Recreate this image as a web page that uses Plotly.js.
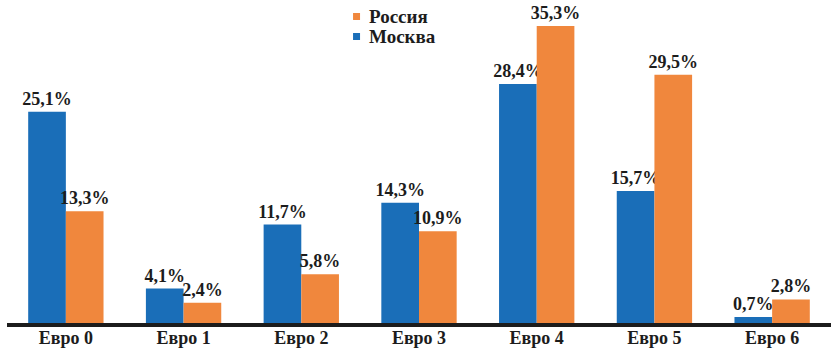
<!DOCTYPE html>
<html>
<head>
<meta charset="utf-8">
<script src="https://cdn.plot.ly/plotly-3.0.1.min.js"></script>
<style>
  html, body { margin: 0; padding: 0; background: #ffffff; }
  #chart { width: 831px; height: 348px; }
</style>
</head>
<body>
<div id="chart"></div>
<script>
// Доля автомобилей по экологическим классам, %
const categories = ['Евро 0', 'Евро 1', 'Евро 2', 'Евро 3', 'Евро 4', 'Евро 5', 'Евро 6'];
const moscow = [25.1, 4.1, 11.7, 14.3, 28.4, 15.7, 0.7];
const russia = [13.3, 2.4, 5.8, 10.9, 35.3, 29.5, 2.8];
const seriesNames = ['Москва', 'Россия'];

const BLUE = '#1a6eb8';
const ORANGE = '#f0873d';
const INK = '#1c1c1c';
const SERIF = 'Liberation Serif, Times New Roman, serif';

const fmt = v => v.toFixed(1).replace('.', ',') + '%';

function barTrace(name, values, color) {
  return {
    type: 'bar',
    name: name,
    x: categories,
    y: values,
    marker: { color: color, line: { width: 0 } },
    text: values.map(fmt),
    textposition: 'outside',
    constraintext: 'none',
    cliponaxis: false,
    textfont: { family: SERIF, size: 18, color: INK, weight: 'bold' },
    showlegend: false,
    hoverinfo: 'x+y+name'
  };
}

const data = [
  barTrace(seriesNames[0], moscow, BLUE),
  barTrace(seriesNames[1], russia, ORANGE)
];

// Legend: small square swatch + label, Россия above Москва
const legendRows = [
  { name: seriesNames[1], color: ORANGE, y: 0.949 },
  { name: seriesNames[0], color: BLUE, y: 0.887 }
];

const shapes = legendRows.map(r => ({
  type: 'rect',
  xref: 'paper', yref: 'paper',
  xsizemode: 'pixel', ysizemode: 'pixel',
  xanchor: 0.4242, yanchor: r.y,
  x0: -3.5, x1: 3.5, y0: -3.5, y1: 3.5,
  fillcolor: r.color,
  line: { width: 0 }
}));

const annotations = legendRows.map(r => ({
  xref: 'paper', yref: 'paper',
  x: 0.4369, y: r.y,
  xanchor: 'left', yanchor: 'middle',
  text: r.name,
  showarrow: false,
  font: { family: SERIF, size: 19, color: INK, weight: 'bold' }
}));

const layout = {
  width: 831,
  height: 348,
  margin: { l: 7, r: 0, t: 0, b: 25, pad: 0 },
  paper_bgcolor: '#ffffff',
  plot_bgcolor: '#ffffff',
  barmode: 'group',
  bargap: 0.36,
  bargroupgap: 0,
  font: { family: SERIF, size: 18, color: INK, weight: 'bold' },
  xaxis: {
    type: 'category',
    range: [-0.5, 6.5],
    showgrid: false,
    zeroline: false,
    showline: true,
    linecolor: INK,
    linewidth: 4,
    ticks: '',
    ticklabelstandoff: -5,
    tickfont: { family: SERIF, size: 18, color: INK, weight: 'bold' },
    fixedrange: true
  },
  yaxis: {
    range: [0, 38.4],
    visible: false,
    showgrid: false,
    zeroline: false,
    fixedrange: true
  },
  showlegend: false,
  shapes: shapes,
  annotations: annotations
};

Plotly.newPlot('chart', data, layout, { displayModeBar: false, staticPlot: true });
</script>
</body>
</html>
